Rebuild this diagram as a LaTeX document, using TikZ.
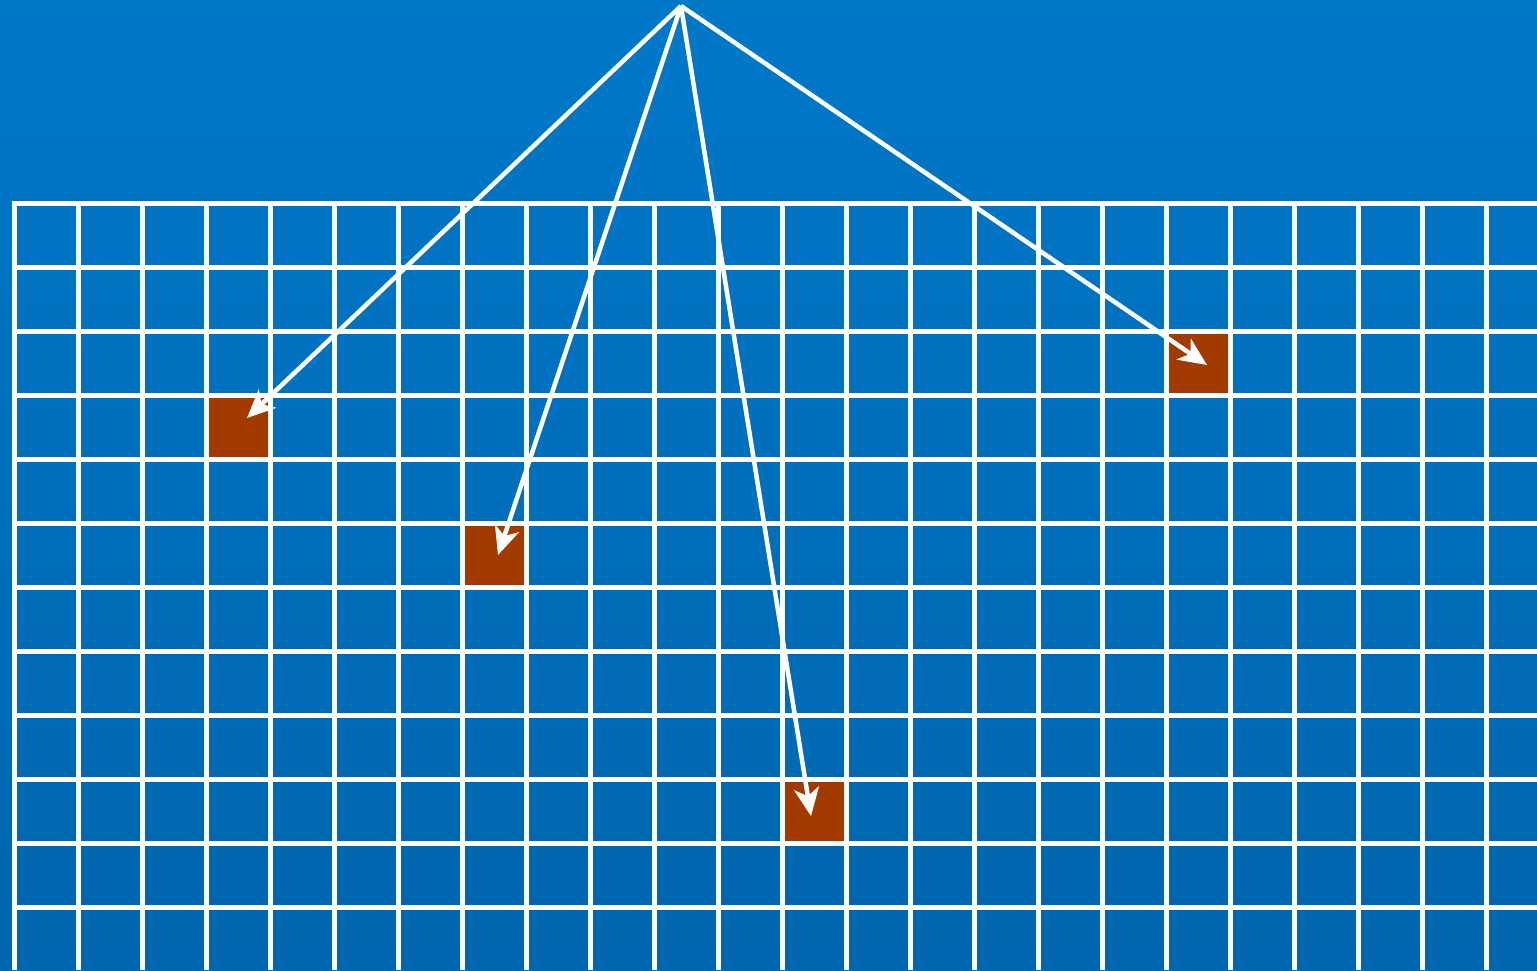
\documentclass[tikz,border=0pt]{standalone}
\usetikzlibrary{arrows.meta}
\definecolor{bgtop}{RGB}{0,120,200}
\definecolor{bgbot}{RGB}{0,102,176}
\definecolor{cellred}{RGB}{163,58,0}
\begin{document}
\begin{tikzpicture}[x=1pt,y=-1pt,
  cell/.style={fill=cellred,draw=none,minimum size=64pt,inner sep=0pt},
  gridline/.style={draw=white,line width=4.8pt},
  pointer/.style={draw=white,line width=4.5pt,-{Stealth[length=28pt,width=25pt,inset=8pt]}}]
\shade[top color=bgtop,bottom color=bgbot] (0,0) rectangle (1537,970);
\useasboundingbox (0,0) rectangle (1537,970);
\node[cell] (c1) at (238.5,427.5) {};
\node[cell] (c2) at (494.5,555.5) {};
\node[cell] (c3) at (814.5,811.5) {};
\node[cell] (c4) at (1198.5,363.5) {};
\foreach \i in {0,...,23} \draw[gridline] ({14.5+64*\i},201) -- ({14.5+64*\i},970);
\foreach \j in {0,...,11} \draw[gridline] (12,{203.5+64*\j}) -- (1537,{203.5+64*\j});
\coordinate (apex) at (681,6);
\coordinate (t1) at (247,418);
\coordinate (t2) at (498,555);
\coordinate (t3) at (811,816);
\coordinate (t4) at (1207,365);
\draw[pointer] (apex) -- (t1);
\draw[pointer] (apex) -- (t2);
\draw[pointer] (apex) -- (t3);
\draw[pointer] (apex) -- (t4);
\end{tikzpicture}
\end{document}
